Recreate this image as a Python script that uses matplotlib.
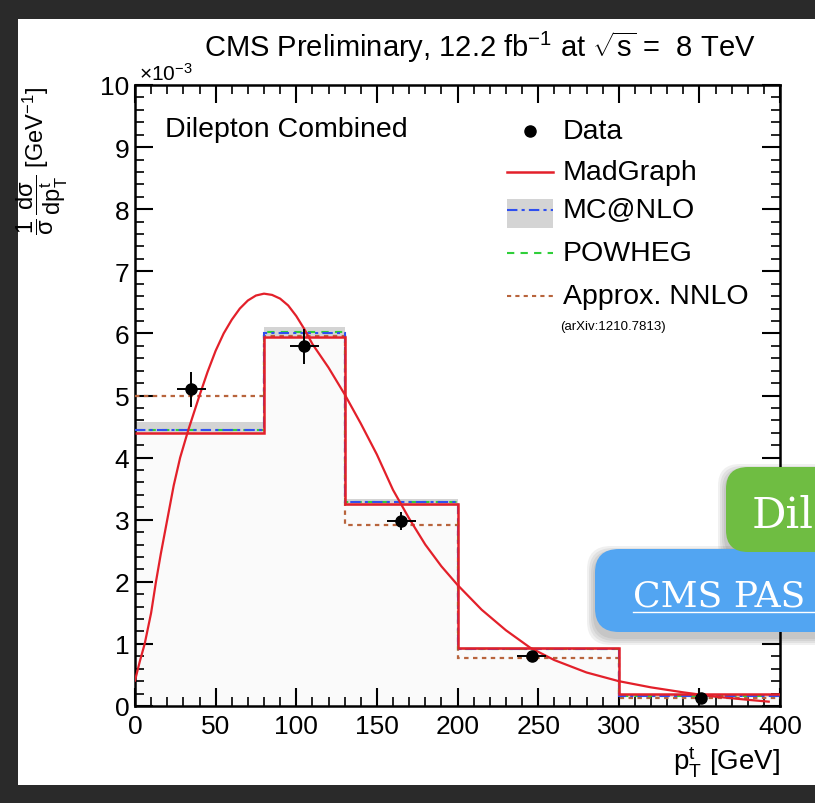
import matplotlib
matplotlib.use("Agg")
import matplotlib.pyplot as plt
from matplotlib.patches import Rectangle, FancyBboxPatch
from matplotlib.lines import Line2D
import numpy as np

plt.rcParams['font.family'] = ['Liberation Sans', 'DejaVu Sans']
plt.rcParams['mathtext.fontset'] = 'custom'
plt.rcParams['mathtext.rm'] = 'Liberation Sans'
plt.rcParams['mathtext.it'] = 'Liberation Sans:italic'
plt.rcParams['mathtext.bf'] = 'Liberation Sans:bold'

# ---------------- data ----------------
bin_edges = [0, 80, 130, 200, 300, 400]
madgraph_hist = [4.39, 5.95, 3.25, 0.94, 0.19]
mcatnlo_hist = [4.44, 6.00, 3.28, 0.92, 0.16]
mcatnlo_band_lo = [4.40, 5.96, 3.22, 0.90, 0.15]
mcatnlo_band_hi = [4.58, 6.10, 3.34, 0.95, 0.18]
powheg_hist = [4.45, 6.02, 3.29, 0.92, 0.16]
nnlo_hist = [5.00, 5.96, 2.92, 0.77, 0.13]

data_x = [35, 105, 165, 246, 351]
data_y = [5.10, 5.79, 2.98, 0.81, 0.13]
data_yerr = [0.28, 0.28, 0.15, 0.06, 0.04]
data_xerr = [9, 9, 9, 9, 4]

curve_x = [0, 3, 6, 10, 13, 16, 20, 24, 28, 33, 40, 45, 50, 55, 60, 65, 70, 75,
           80, 85, 90, 95, 100, 105, 110, 120, 130, 140, 150, 160, 170, 180, 190,
           200, 215, 230, 245, 260, 280, 300, 320, 340, 360, 380, 393]
curve_y = [0.41, 0.72, 1.00, 1.50, 2.00, 2.45, 3.00, 3.55, 4.00, 4.44, 5.00, 5.38,
           5.72, 6.00, 6.22, 6.40, 6.53, 6.61, 6.64, 6.62, 6.56, 6.45, 6.28, 6.07,
           5.83, 5.45, 5.02, 4.55, 4.05, 3.48, 3.02, 2.60, 2.25, 1.95, 1.55, 1.22,
           0.94, 0.74, 0.54, 0.40, 0.30, 0.22, 0.15, 0.10, 0.07]

x_ticks = [0, 50, 100, 150, 200, 250, 300, 350, 400]
y_ticks = [0, 1, 2, 3, 4, 5, 6, 7, 8, 9, 10]

legend_labels = ["Data", "MadGraph", "MC@NLO", "POWHEG", "Approx. NNLO"]

# ---------------- styles ----------------
RED = '#e3202a'
BLUE = '#2f4ff0'
GREEN = '#2fcf3a'
BROWN = '#b8643c'

W, H = 815, 804
fig = plt.figure(figsize=(W / 100, H / 100), dpi=100)
fig.patch.set_facecolor('#2a2a2a')

# white slide panel
fig.add_artist(Rectangle((18 / W, (H - 786) / H), (W - 18) / W + 0.05, 766 / H,
                         transform=fig.transFigure, facecolor='white',
                         edgecolor='none', zorder=-5))

ax_l, ax_r, ax_t, ax_b = 135, 780, 86, 707
ax = fig.add_axes([ax_l / W, (H - ax_b) / H, (ax_r - ax_l) / W, (ax_b - ax_t) / H])
ax.set_facecolor('white')

# histograms
ax.stairs(mcatnlo_hist, bin_edges, baseline=0, fill=True, color='#fafafa', zorder=1)
ax.stairs(mcatnlo_band_hi, bin_edges, baseline=mcatnlo_band_lo, fill=True,
          color='#d4d4d4', zorder=2)
ax.stairs(nnlo_hist, bin_edges, baseline=None, color=BROWN, lw=1.6,
          linestyle=(0, (2, 2)), zorder=3)
ax.stairs(powheg_hist, bin_edges, baseline=None, color=GREEN, lw=1.5,
          linestyle=(0, (3.5, 3)), zorder=4)
ax.stairs(mcatnlo_hist, bin_edges, baseline=None, color=BLUE, lw=1.5,
          linestyle=(0, (5, 2, 1.5, 2)), zorder=5)
ax.stairs(madgraph_hist, bin_edges, baseline=None, color=RED, lw=1.8, zorder=6)
ax.plot(curve_x, curve_y, color=RED, lw=1.6, zorder=7)

ax.errorbar(data_x, data_y, yerr=data_yerr, xerr=data_xerr, fmt='o', color='black',
            markersize=8, elinewidth=1.4, capsize=0, zorder=8)

ax.set_xlim(0, 400)
ax.set_ylim(0, 10)
ax.set_xticks(x_ticks)
ax.set_xticklabels([str(t) for t in x_ticks])
ax.set_yticks(y_ticks)
ax.set_yticklabels([str(t) for t in y_ticks])
ax.set_xticks(np.arange(0, 401, 10), minor=True)
ax.set_yticks(np.arange(0, 10.01, 0.2), minor=True)
ax.tick_params(which='both', direction='in', top=True, right=True, colors='black')
ax.tick_params(which='major', length=13, width=1.5, labelsize=19)
ax.tick_params(which='minor', length=6.5, width=1.2)
ax.tick_params(axis='x', which='major', pad=6)
ax.tick_params(axis='y', which='major', pad=4)
for s in ax.spines.values():
    s.set_linewidth(1.8)

# in-plot label
ax.text((165 - ax_l) / (ax_r - ax_l), (ax_b - 130) / (ax_b - ax_t), "Dilepton Combined",
        transform=ax.transAxes, fontsize=20.5, ha='left', va='center')

# manual legend
def ax_xy(px, py):
    return ((px - ax_l) / (ax_r - ax_l), (ax_b - py) / (ax_b - ax_t))

rows_py = [131.7, 172.7, 211, 254, 296.7]
hx0, hx1, tx = 507, 553, 563
tr = ax.transAxes
x0, _ = ax_xy(hx0, 0)
x1, _ = ax_xy(hx1, 0)
xt, _ = ax_xy(tx, 0)
xm, _ = ax_xy(530, 0)
# Data
_, y = ax_xy(0, rows_py[0])
ax.add_line(Line2D([xm], [y], marker='o', color='black', markersize=8, transform=tr))
# MadGraph
_, y = ax_xy(0, rows_py[1])
ax.add_line(Line2D([x0, x1], [y, y], color=RED, lw=1.8, transform=tr))
# MC@NLO
_, y = ax_xy(0, rows_py[2])
_, yb = ax_xy(0, 229)
_, yt = ax_xy(0, 200)
ax.add_patch(Rectangle((x0, yb), x1 - x0, yt - yb, transform=tr, facecolor='#d4d4d4',
                       edgecolor='none'))
ax.add_line(Line2D([x0, x1], [y, y], color=BLUE, lw=1.5, linestyle=(0, (5, 2, 1.5, 2)),
                   transform=tr))
# POWHEG
_, y = ax_xy(0, rows_py[3])
ax.add_line(Line2D([x0, x1], [y, y], color=GREEN, lw=1.5, linestyle=(0, (3.5, 3)),
                   transform=tr))
# NNLO
_, y = ax_xy(0, rows_py[4])
ax.add_line(Line2D([x0, x1], [y, y], color=BROWN, lw=1.5, linestyle=(0, (2, 2)),
                   transform=tr))
for lab, py in zip(legend_labels, rows_py):
    _, y = ax_xy(0, py)
    ax.text(xt, y, lab, transform=tr, fontsize=20.5, ha='left', va='center')
xa, ya = ax_xy(560, 327)
ax.text(xa, ya, "(arXiv:1210.7813)", transform=tr, fontsize=9.5, ha='left', va='center')

# titles and axis labels
fig.text(480 / W, (H - 47) / H,
         r"CMS Preliminary, 12.2 fb$^{-1}$ at $\sqrt{\mathrm{s}}$ =  8 TeV",
         fontsize=21, ha='center', va='center')
fig.text(139 / W, (H - 85) / H, r"$\times$10$^{-3}$", fontsize=15, ha='left', va='bottom')
fig.text(780 / W, (H - 762) / H, r"p$^{\mathrm{t}}_{\mathrm{T}}$ [GeV]", fontsize=20,
         ha='right', va='center')
fig.text(42 / W, (H - 87) / H,
         r"$\dfrac{1}{\mathrm{σ}}\,\dfrac{\mathrm{dσ}}{\mathrm{dp}^{\mathrm{t}}_{\mathrm{T}}}$ [GeV$^{-1}$]",
         fontsize=17, rotation=90, ha='center', va='top')

# overlay buttons (slide decorations)
def button(x0p, y0p, x1p, y1p, color, r):
    for k in range(4):
        g = 2 + 2 * k
        fig.add_artist(FancyBboxPatch(((x0p - g) / W, (H - y1p - 5 - g) / H),
                                      (x1p - x0p + 2 * g) / W, (y1p - y0p + 2 * g) / H,
                                      boxstyle=f"round,pad=0,rounding_size={r / W}",
                                      transform=fig.transFigure, facecolor='black',
                                      edgecolor='none', alpha=0.06, zorder=10))
    fig.add_artist(FancyBboxPatch((x0p / W, (H - y1p) / H), (x1p - x0p) / W,
                                  (y1p - y0p) / H,
                                  boxstyle=f"round,pad=0,rounding_size={r / W}",
                                  transform=fig.transFigure, facecolor=color,
                                  edgecolor='none', zorder=11))

button(595, 550, 860, 633, '#52a5f2', 24)
fig.text(633 / W, (H - 607) / H, "CMS PAS", fontsize=26, family='DejaVu Serif',
         color='white', ha='left', va='baseline', zorder=12)
fig.add_artist(Line2D([633 / W, 1.0], [(H - 613) / H] * 2, transform=fig.transFigure,
                      color='white', lw=1.0, zorder=12))
button(726, 468, 860, 553, '#6fbd42', 22)
fig.text(752 / W, (H - 528) / H, "Dil", fontsize=31, family='DejaVu Serif',
         color='white', ha='left', va='baseline', zorder=14)

fig.savefig("out.png", dpi=100, facecolor=fig.get_facecolor())
